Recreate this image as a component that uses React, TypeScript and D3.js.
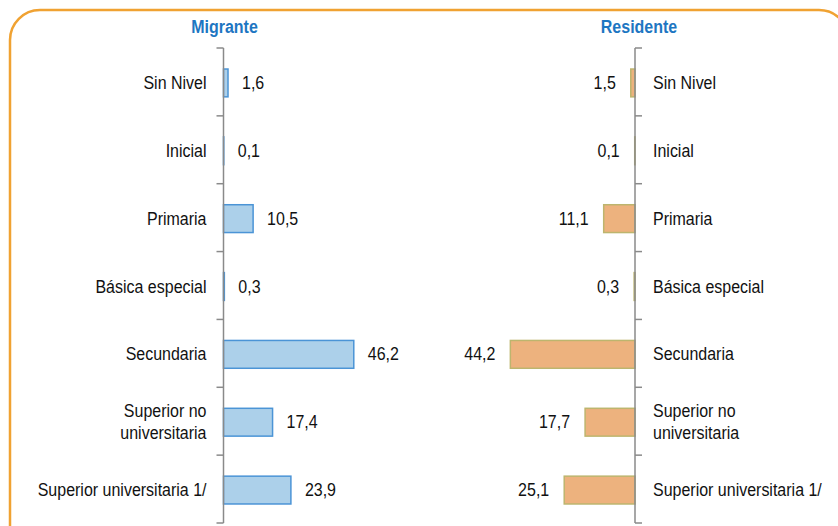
import * as d3 from "d3";
import * as React from "react";

const categories = [
  ["Sin Nivel"],
  ["Inicial"],
  ["Primaria"],
  ["Básica especial"],
  ["Secundaria"],
  ["Superior no", "universitaria"],
  ["Superior universitaria 1/"],
];
const migrante = [1.6, 0.1, 10.5, 0.3, 46.2, 17.4, 23.9];
const residente = [1.5, 0.1, 11.1, 0.3, 44.2, 17.7, 25.1];
const titles = ["Migrante", "Residente"];

const W = 838;
const H = 526;
const FONT = "'Liberation Sans', Arial, sans-serif";
const STRETCH = 1.12;

const fmt = (v: number) => v.toFixed(1).replace(".", ",");

// text stretched a bit vertically, like the source image
function T(props: { x: number; y: number; anchor?: string; children: any; bold?: boolean; fill?: string }) {
  const { x, y, anchor, children, bold, fill } = props;
  return (
    <text
      transform={"translate(" + x + "," + y + ") scale(1," + STRETCH + ")"}
      textAnchor={anchor || "start"}
      fontFamily={FONT}
      fontSize={16}
      fontWeight={bold ? "bold" : "normal"}
      fill={fill || "#111"}
    >
      {children}
    </text>
  );
}

export default function App() {
  const y = d3
    .scaleBand<number>()
    .domain(d3.range(categories.length))
    .range([48, 523])
    .paddingInner(0)
    .paddingOuter(0);
  const x = d3.scaleLinear().domain([0, 50]).range([0, 141]);
  const barH = y.bandwidth() * 0.41;
  const bounds = d3.range(categories.length + 1).map((i) => 48 + i * y.step());

  const panels = [
    { axisX: 223.5, dir: 1, data: migrante, fill: "#acd0ea", stroke: "#4b94d6" },
    { axisX: 635, dir: -1, data: residente, fill: "#edb27e", stroke: "#bdb56e" },
  ];

  return (
    <svg width={W} height={H} style={{ position: "absolute", left: 0, top: 0, background: "#fff" }}>
      <rect x={10} y={10} width={839} height={560} rx={30} ry={30} fill="none" stroke="#f0a232" strokeWidth={2.5} />
      {panels.map((p, pi) => {
        const cy = (i: number) => y(i)! + y.bandwidth() / 2 + 1;
        return (
          <g key={"panel" + pi}>
            <T x={p.axisX + (pi === 0 ? 1 : 4)} y={33} anchor="middle" bold fill="#1d76c2">
              {titles[pi]}
            </T>
            {p.data.map((v, i) => {
              const w = x(v);
              const bx = p.dir > 0 ? p.axisX : p.axisX - w;
              return (
                <g key={"bar" + pi + "_" + i}>
                  <rect x={bx} y={cy(i) - barH / 2} width={w} height={barH} fill={p.fill} stroke={p.stroke} strokeWidth={1.5} />
                  <T x={p.dir > 0 ? p.axisX + w + 14 : p.axisX - w - 15} y={cy(i) + 6} anchor={p.dir > 0 ? "start" : "end"}>
                    {fmt(v)}
                  </T>
                </g>
              );
            })}
            {categories.map((lines, i) => {
              const lx = p.dir > 0 ? p.axisX - 17 : p.axisX + 18;
              const anchor = p.dir > 0 ? "end" : "start";
              const lh = 21.5;
              const y0 = cy(i) + 6 - ((lines.length - 1) * lh) / 2;
              return lines.map((ln, li) => (
                <T key={"lab" + pi + "_" + i + "_" + li} x={lx} y={y0 + li * lh} anchor={anchor}>
                  {ln}
                </T>
              ));
            })}
            <line x1={p.axisX} x2={p.axisX} y1={bounds[0]} y2={bounds[bounds.length - 1]} stroke="#8a8a8a" strokeWidth={1.5} />
            {bounds.map((b, i) => (
              <line key={"tick" + pi + "_" + i} x1={p.axisX} x2={p.axisX - 7 * p.dir} y1={b} y2={b} stroke="#8a8a8a" strokeWidth={1.5} />
            ))}
          </g>
        );
      })}
    </svg>
  );
}
